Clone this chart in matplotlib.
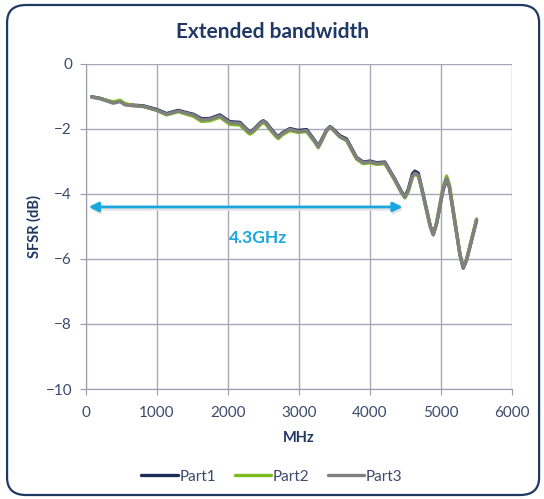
import matplotlib.pyplot as plt
from matplotlib.patches import FancyBboxPatch
import numpy as np

# data
freq_mhz = [80, 200, 385, 479, 549, 667, 808, 995, 1136, 1300, 1418, 1512, 1629, 1746,
            1887, 2028, 2169, 2280, 2310, 2340, 2380, 2460, 2498, 2540, 2592, 2670, 2709,
            2760, 2873, 2990, 3108, 3230, 3272, 3320, 3390, 3437, 3480, 3577, 3671, 3812,
            3906, 4000, 4094, 4211, 4352, 4450, 4493, 4540, 4600, 4634, 4681, 4720, 4850,
            4892, 4940, 5030, 5080, 5120, 5270, 5315, 5360, 5502]
part1 = [-1.01, -1.06, -1.19, -1.14, -1.24, -1.27, -1.29, -1.40, -1.53, -1.43, -1.50, -1.55,
         -1.69, -1.68, -1.57, -1.78, -1.80, -2.04, -2.09, -2.06, -1.98, -1.80, -1.75, -1.81,
         -1.96, -2.16, -2.24, -2.13, -1.99, -2.05, -2.02, -2.38, -2.53, -2.33, -2.03, -1.93,
         -2.00, -2.21, -2.31, -2.88, -3.02, -2.99, -3.04, -3.02, -3.55, -3.95, -4.08, -3.86,
         -3.38, -3.30, -3.36, -3.72, -4.98, -5.24, -4.90, -3.88, -3.55, -3.80, -5.88, -6.27,
         -6.04, -4.82]
part2 = [-1.02, -1.07, -1.17, -1.12, -1.22, -1.28, -1.31, -1.43, -1.57, -1.47, -1.55, -1.61,
         -1.77, -1.75, -1.64, -1.86, -1.88, -2.11, -2.16, -2.12, -2.05, -1.86, -1.80, -1.87,
         -2.02, -2.22, -2.30, -2.19, -2.05, -2.11, -2.08, -2.43, -2.58, -2.38, -2.06, -1.95,
         -2.03, -2.25, -2.36, -2.93, -3.07, -3.04, -3.09, -3.07, -3.59, -3.99, -4.12, -3.93,
         -3.48, -3.39, -3.45, -3.77, -5.00, -5.25, -4.86, -3.78, -3.45, -3.72, -5.88, -6.27,
         -6.02, -4.77]
part3 = [-1.02, -1.07, -1.21, -1.16, -1.26, -1.29, -1.31, -1.42, -1.55, -1.45, -1.52, -1.57,
         -1.72, -1.70, -1.60, -1.81, -1.83, -2.06, -2.11, -2.08, -2.00, -1.82, -1.77, -1.83,
         -1.98, -2.18, -2.26, -2.15, -2.01, -2.08, -2.05, -2.40, -2.55, -2.35, -2.05, -1.95,
         -2.02, -2.24, -2.34, -2.90, -3.04, -3.01, -3.06, -3.04, -3.57, -3.97, -4.10, -3.90,
         -3.45, -3.36, -3.42, -3.75, -5.00, -5.26, -4.90, -3.85, -3.52, -3.78, -5.90, -6.29,
         -6.05, -4.80]

series = [("Part1", part1, "#1c2d5a"), ("Part2", part2, "#7dba1e"), ("Part3", part3, "#808080")]

bw_start, bw_end = 0, 4500
bw_level = -4.4
bw_label = "4.3GHz"

navy = "#1f3864"
tick_col = "#3b4a6b"
plt.rcParams['font.family'] = ['Lato', 'DejaVu Sans']

fig = plt.figure(figsize=(5.44, 4.99), dpi=100)
ax = fig.add_axes([0.158, 0.2204, 0.783, 0.6516])

# rounded outer frame
frame = FancyBboxPatch((0.013, 0.008), 0.978, 0.982, boxstyle="round,pad=0,rounding_size=0.035",
                       transform=fig.transFigure, fill=False, edgecolor=navy, linewidth=1.6)
fig.patches.append(frame)

for name, vals, col in series:
    ax.plot(freq_mhz, vals, color=col, linewidth=2.4, label=name,
            solid_joinstyle='round', solid_capstyle='round')

ax.set_xlim(0, 6000)
ax.set_ylim(-10, 0)
ax.set_xticks(np.arange(0, 6001, 1000))
ax.set_yticks(np.arange(-10, 1, 2))
ax.grid(True, color="#a8a8b8", linewidth=1)
ax.set_axisbelow(True)
for s in ["top", "right"]:
    ax.spines[s].set_visible(False)
for s in ["left", "bottom"]:
    ax.spines[s].set_color("#9a9aaa")
ax.tick_params(colors="#9a9aaa", labelcolor=tick_col, labelsize=11, length=4)
ax.tick_params(axis="x", pad=8)
ax.tick_params(axis="y", pad=6)

ax.set_xlabel("MHz", fontsize=10.5, fontweight="bold", color=navy, labelpad=8)
ax.set_ylabel("SFSR (dB)", fontsize=10.5, fontweight="bold", color=navy, labelpad=3)
fig.text(0.5, 0.936, "Extended bandwidth", ha="center", va="center",
         fontsize=15, fontweight="bold", color=navy)

# bandwidth arrow with a faint shadow
ax.annotate("", xy=(bw_start + 15, bw_level - 0.07), xytext=(bw_end + 15, bw_level - 0.07),
            arrowprops=dict(arrowstyle="<|-|>", color="#e2e2e2", lw=2, mutation_scale=14))
ax.annotate("", xy=(bw_start, bw_level), xytext=(bw_end, bw_level),
            arrowprops=dict(arrowstyle="<|-|>", color="#1aa7e0", lw=2, mutation_scale=14))
ax.text(2420, -5.34, bw_label, ha="center", va="center", fontsize=12.5,
        fontweight="bold", color="#1aa7e0")

fig.legend(loc="center", bbox_to_anchor=(0.5, 0.045), ncol=3, frameon=False,
           fontsize=11, handlelength=2.4, columnspacing=1.2, handletextpad=0.1,
           labelcolor=tick_col)

fig.savefig("out.png", dpi=100)
